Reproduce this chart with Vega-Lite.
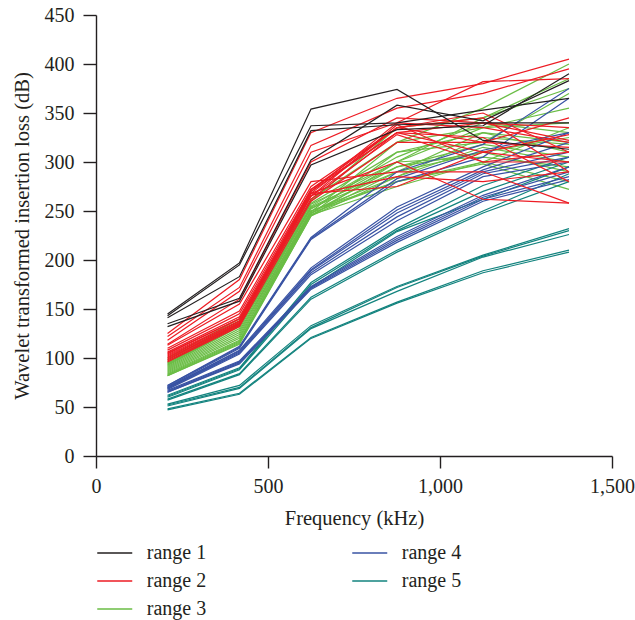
{
  "$schema": "https://vega.github.io/schema/vega-lite/v6.json",
  "width": 516,
  "height": 441,
  "autosize": {"type": "none"},
  "padding": {"left": 96, "top": 15, "right": 23, "bottom": 164},
  "background": "white",
  "config": {
    "view": {"stroke": null},
    "font": "Liberation Serif",
    "axis": {"labelFont": "Liberation Serif", "titleFont": "Liberation Serif", "labelFontSize": 20, "titleFontSize": 20.5, "titleFontWeight": "normal", "labelColor": "#231f20", "titleColor": "#231f20", "domainColor": "#231f20", "tickColor": "#231f20", "domainWidth": 1.4, "tickWidth": 1.4, "grid": false},
    "legend": {"labelFont": "Liberation Serif", "labelFontSize": 20, "labelColor": "#231f20"}
  },
  "data": {"values": [
    {"id":"G1","g":"range 3","f":208,"v":100},{"id":"G1","g":"range 3","f":417,"v":140},{"id":"G1","g":"range 3","f":625,"v":262},{"id":"G1","g":"range 3","f":875,"v":320},{"id":"G1","g":"range 3","f":1125,"v":355},{"id":"G1","g":"range 3","f":1375,"v":400},
    {"id":"G2","g":"range 3","f":208,"v":98},{"id":"G2","g":"range 3","f":417,"v":138},{"id":"G2","g":"range 3","f":625,"v":260},{"id":"G2","g":"range 3","f":875,"v":335},{"id":"G2","g":"range 3","f":1125,"v":345},{"id":"G2","g":"range 3","f":1375,"v":385},
    {"id":"G3","g":"range 3","f":208,"v":96},{"id":"G3","g":"range 3","f":417,"v":136},{"id":"G3","g":"range 3","f":625,"v":258},{"id":"G3","g":"range 3","f":875,"v":310},{"id":"G3","g":"range 3","f":1125,"v":320},{"id":"G3","g":"range 3","f":1375,"v":370},
    {"id":"G4","g":"range 3","f":208,"v":95},{"id":"G4","g":"range 3","f":417,"v":135},{"id":"G4","g":"range 3","f":625,"v":257},{"id":"G4","g":"range 3","f":875,"v":300},{"id":"G4","g":"range 3","f":1125,"v":335},{"id":"G4","g":"range 3","f":1375,"v":340},
    {"id":"G5","g":"range 3","f":208,"v":94},{"id":"G5","g":"range 3","f":417,"v":134},{"id":"G5","g":"range 3","f":625,"v":255},{"id":"G5","g":"range 3","f":875,"v":305},{"id":"G5","g":"range 3","f":1125,"v":340},{"id":"G5","g":"range 3","f":1375,"v":330},
    {"id":"G6","g":"range 3","f":208,"v":93},{"id":"G6","g":"range 3","f":417,"v":133},{"id":"G6","g":"range 3","f":625,"v":254},{"id":"G6","g":"range 3","f":875,"v":295},{"id":"G6","g":"range 3","f":1125,"v":310},{"id":"G6","g":"range 3","f":1375,"v":325},
    {"id":"G7","g":"range 3","f":208,"v":92},{"id":"G7","g":"range 3","f":417,"v":132},{"id":"G7","g":"range 3","f":625,"v":253},{"id":"G7","g":"range 3","f":875,"v":290},{"id":"G7","g":"range 3","f":1125,"v":330},{"id":"G7","g":"range 3","f":1375,"v":310},
    {"id":"G8","g":"range 3","f":208,"v":91},{"id":"G8","g":"range 3","f":417,"v":130},{"id":"G8","g":"range 3","f":625,"v":252},{"id":"G8","g":"range 3","f":875,"v":300},{"id":"G8","g":"range 3","f":1125,"v":305},{"id":"G8","g":"range 3","f":1375,"v":295},
    {"id":"G9","g":"range 3","f":208,"v":90},{"id":"G9","g":"range 3","f":417,"v":128},{"id":"G9","g":"range 3","f":625,"v":250},{"id":"G9","g":"range 3","f":875,"v":285},{"id":"G9","g":"range 3","f":1125,"v":325},{"id":"G9","g":"range 3","f":1375,"v":318},
    {"id":"G10","g":"range 3","f":208,"v":89},{"id":"G10","g":"range 3","f":417,"v":126},{"id":"G10","g":"range 3","f":625,"v":250},{"id":"G10","g":"range 3","f":875,"v":280},{"id":"G10","g":"range 3","f":1125,"v":300},{"id":"G10","g":"range 3","f":1375,"v":280},
    {"id":"G11","g":"range 3","f":208,"v":88},{"id":"G11","g":"range 3","f":417,"v":124},{"id":"G11","g":"range 3","f":625,"v":249},{"id":"G11","g":"range 3","f":875,"v":320},{"id":"G11","g":"range 3","f":1125,"v":335},{"id":"G11","g":"range 3","f":1375,"v":355},
    {"id":"G12","g":"range 3","f":208,"v":87},{"id":"G12","g":"range 3","f":417,"v":122},{"id":"G12","g":"range 3","f":625,"v":248},{"id":"G12","g":"range 3","f":875,"v":295},{"id":"G12","g":"range 3","f":1125,"v":318},{"id":"G12","g":"range 3","f":1375,"v":305},
    {"id":"G13","g":"range 3","f":208,"v":86},{"id":"G13","g":"range 3","f":417,"v":120},{"id":"G13","g":"range 3","f":625,"v":248},{"id":"G13","g":"range 3","f":875,"v":280},{"id":"G13","g":"range 3","f":1125,"v":298},{"id":"G13","g":"range 3","f":1375,"v":272},
    {"id":"G14","g":"range 3","f":208,"v":85},{"id":"G14","g":"range 3","f":417,"v":118},{"id":"G14","g":"range 3","f":625,"v":247},{"id":"G14","g":"range 3","f":875,"v":310},{"id":"G14","g":"range 3","f":1125,"v":330},{"id":"G14","g":"range 3","f":1375,"v":320},
    {"id":"G15","g":"range 3","f":208,"v":84},{"id":"G15","g":"range 3","f":417,"v":117},{"id":"G15","g":"range 3","f":625,"v":246},{"id":"G15","g":"range 3","f":875,"v":290},{"id":"G15","g":"range 3","f":1125,"v":310},{"id":"G15","g":"range 3","f":1375,"v":290},
    {"id":"G16","g":"range 3","f":208,"v":83},{"id":"G16","g":"range 3","f":417,"v":116},{"id":"G16","g":"range 3","f":625,"v":246},{"id":"G16","g":"range 3","f":875,"v":275},{"id":"G16","g":"range 3","f":1125,"v":300},{"id":"G16","g":"range 3","f":1375,"v":335},
    {"id":"G17","g":"range 3","f":208,"v":82},{"id":"G17","g":"range 3","f":417,"v":115},{"id":"G17","g":"range 3","f":625,"v":245},{"id":"G17","g":"range 3","f":875,"v":300},{"id":"G17","g":"range 3","f":1125,"v":345},{"id":"G17","g":"range 3","f":1375,"v":375},
    {"id":"G18","g":"range 3","f":208,"v":82},{"id":"G18","g":"range 3","f":417,"v":114},{"id":"G18","g":"range 3","f":625,"v":245},{"id":"G18","g":"range 3","f":875,"v":285},{"id":"G18","g":"range 3","f":1125,"v":315},{"id":"G18","g":"range 3","f":1375,"v":300},
    {"id":"T1","g":"range 5","f":208,"v":62},{"id":"T1","g":"range 5","f":417,"v":90},{"id":"T1","g":"range 5","f":625,"v":177},{"id":"T1","g":"range 5","f":875,"v":232},{"id":"T1","g":"range 5","f":1125,"v":276},{"id":"T1","g":"range 5","f":1375,"v":305},
    {"id":"T2","g":"range 5","f":208,"v":61},{"id":"T2","g":"range 5","f":417,"v":89},{"id":"T2","g":"range 5","f":625,"v":175},{"id":"T2","g":"range 5","f":875,"v":230},{"id":"T2","g":"range 5","f":1125,"v":270},{"id":"T2","g":"range 5","f":1375,"v":300},
    {"id":"T3","g":"range 5","f":208,"v":60},{"id":"T3","g":"range 5","f":417,"v":88},{"id":"T3","g":"range 5","f":625,"v":172},{"id":"T3","g":"range 5","f":875,"v":229},{"id":"T3","g":"range 5","f":1125,"v":262},{"id":"T3","g":"range 5","f":1375,"v":295},
    {"id":"T4","g":"range 5","f":208,"v":58},{"id":"T4","g":"range 5","f":417,"v":84},{"id":"T4","g":"range 5","f":625,"v":162},{"id":"T4","g":"range 5","f":875,"v":210},{"id":"T4","g":"range 5","f":1125,"v":250},{"id":"T4","g":"range 5","f":1375,"v":288},
    {"id":"T5","g":"range 5","f":208,"v":57},{"id":"T5","g":"range 5","f":417,"v":83},{"id":"T5","g":"range 5","f":625,"v":160},{"id":"T5","g":"range 5","f":875,"v":208},{"id":"T5","g":"range 5","f":1125,"v":248},{"id":"T5","g":"range 5","f":1375,"v":280},
    {"id":"T6","g":"range 5","f":208,"v":53},{"id":"T6","g":"range 5","f":417,"v":72},{"id":"T6","g":"range 5","f":625,"v":133},{"id":"T6","g":"range 5","f":875,"v":173},{"id":"T6","g":"range 5","f":1125,"v":205},{"id":"T6","g":"range 5","f":1375,"v":232},
    {"id":"T7","g":"range 5","f":208,"v":52},{"id":"T7","g":"range 5","f":417,"v":70},{"id":"T7","g":"range 5","f":625,"v":131},{"id":"T7","g":"range 5","f":875,"v":172},{"id":"T7","g":"range 5","f":1125,"v":204},{"id":"T7","g":"range 5","f":1375,"v":230},
    {"id":"T8","g":"range 5","f":208,"v":51},{"id":"T8","g":"range 5","f":417,"v":69},{"id":"T8","g":"range 5","f":625,"v":130},{"id":"T8","g":"range 5","f":875,"v":168},{"id":"T8","g":"range 5","f":1125,"v":203},{"id":"T8","g":"range 5","f":1375,"v":226},
    {"id":"T9","g":"range 5","f":208,"v":48},{"id":"T9","g":"range 5","f":417,"v":64},{"id":"T9","g":"range 5","f":625,"v":121},{"id":"T9","g":"range 5","f":875,"v":157},{"id":"T9","g":"range 5","f":1125,"v":189},{"id":"T9","g":"range 5","f":1375,"v":210},
    {"id":"T10","g":"range 5","f":208,"v":47},{"id":"T10","g":"range 5","f":417,"v":63},{"id":"T10","g":"range 5","f":625,"v":120},{"id":"T10","g":"range 5","f":875,"v":156},{"id":"T10","g":"range 5","f":1125,"v":187},{"id":"T10","g":"range 5","f":1375,"v":208},
    {"id":"U1","g":"range 4","f":208,"v":72},{"id":"U1","g":"range 4","f":417,"v":112},{"id":"U1","g":"range 4","f":625,"v":223},{"id":"U1","g":"range 4","f":875,"v":290},{"id":"U1","g":"range 4","f":1125,"v":318},{"id":"U1","g":"range 4","f":1375,"v":375},
    {"id":"U2","g":"range 4","f":208,"v":72},{"id":"U2","g":"range 4","f":417,"v":111},{"id":"U2","g":"range 4","f":625,"v":222},{"id":"U2","g":"range 4","f":875,"v":283},{"id":"U2","g":"range 4","f":1125,"v":312},{"id":"U2","g":"range 4","f":1375,"v":330},
    {"id":"U3","g":"range 4","f":208,"v":71},{"id":"U3","g":"range 4","f":417,"v":110},{"id":"U3","g":"range 4","f":625,"v":221},{"id":"U3","g":"range 4","f":875,"v":280},{"id":"U3","g":"range 4","f":1125,"v":305},{"id":"U3","g":"range 4","f":1375,"v":365},
    {"id":"M1","g":"range 4","f":208,"v":70},{"id":"M1","g":"range 4","f":417,"v":108},{"id":"M1","g":"range 4","f":625,"v":192},{"id":"M1","g":"range 4","f":875,"v":254},{"id":"M1","g":"range 4","f":1125,"v":295},{"id":"M1","g":"range 4","f":1375,"v":330},
    {"id":"M2","g":"range 4","f":208,"v":70},{"id":"M2","g":"range 4","f":417,"v":107},{"id":"M2","g":"range 4","f":625,"v":190},{"id":"M2","g":"range 4","f":875,"v":251},{"id":"M2","g":"range 4","f":1125,"v":292},{"id":"M2","g":"range 4","f":1375,"v":320},
    {"id":"M3","g":"range 4","f":208,"v":69},{"id":"M3","g":"range 4","f":417,"v":106},{"id":"M3","g":"range 4","f":625,"v":189},{"id":"M3","g":"range 4","f":875,"v":248},{"id":"M3","g":"range 4","f":1125,"v":290},{"id":"M3","g":"range 4","f":1375,"v":310},
    {"id":"M4","g":"range 4","f":208,"v":69},{"id":"M4","g":"range 4","f":417,"v":105},{"id":"M4","g":"range 4","f":625,"v":187},{"id":"M4","g":"range 4","f":875,"v":244},{"id":"M4","g":"range 4","f":1125,"v":288},{"id":"M4","g":"range 4","f":1375,"v":305},
    {"id":"M5","g":"range 4","f":208,"v":68},{"id":"M5","g":"range 4","f":417,"v":104},{"id":"M5","g":"range 4","f":625,"v":185},{"id":"M5","g":"range 4","f":875,"v":240},{"id":"M5","g":"range 4","f":1125,"v":285},{"id":"M5","g":"range 4","f":1375,"v":300},
    {"id":"L1","g":"range 4","f":208,"v":67},{"id":"L1","g":"range 4","f":417,"v":97},{"id":"L1","g":"range 4","f":625,"v":173},{"id":"L1","g":"range 4","f":875,"v":224},{"id":"L1","g":"range 4","f":1125,"v":266},{"id":"L1","g":"range 4","f":1375,"v":295},
    {"id":"L2","g":"range 4","f":208,"v":66},{"id":"L2","g":"range 4","f":417,"v":96},{"id":"L2","g":"range 4","f":625,"v":172},{"id":"L2","g":"range 4","f":875,"v":222},{"id":"L2","g":"range 4","f":1125,"v":264},{"id":"L2","g":"range 4","f":1375,"v":290},
    {"id":"L3","g":"range 4","f":208,"v":65},{"id":"L3","g":"range 4","f":417,"v":95},{"id":"L3","g":"range 4","f":625,"v":171},{"id":"L3","g":"range 4","f":875,"v":220},{"id":"L3","g":"range 4","f":1125,"v":262},{"id":"L3","g":"range 4","f":1375,"v":285},
    {"id":"L4","g":"range 4","f":208,"v":65},{"id":"L4","g":"range 4","f":417,"v":94},{"id":"L4","g":"range 4","f":625,"v":170},{"id":"L4","g":"range 4","f":875,"v":218},{"id":"L4","g":"range 4","f":1125,"v":260},{"id":"L4","g":"range 4","f":1375,"v":282},
    {"id":"R1","g":"range 2","f":208,"v":125},{"id":"R1","g":"range 2","f":417,"v":180},{"id":"R1","g":"range 2","f":625,"v":330},{"id":"R1","g":"range 2","f":875,"v":365},{"id":"R1","g":"range 2","f":1125,"v":380},{"id":"R1","g":"range 2","f":1375,"v":405},
    {"id":"R2","g":"range 2","f":208,"v":122},{"id":"R2","g":"range 2","f":417,"v":172},{"id":"R2","g":"range 2","f":625,"v":317},{"id":"R2","g":"range 2","f":875,"v":355},{"id":"R2","g":"range 2","f":1125,"v":370},{"id":"R2","g":"range 2","f":1375,"v":395},
    {"id":"R3","g":"range 2","f":208,"v":118},{"id":"R3","g":"range 2","f":417,"v":168},{"id":"R3","g":"range 2","f":625,"v":310},{"id":"R3","g":"range 2","f":875,"v":340},{"id":"R3","g":"range 2","f":1125,"v":382},{"id":"R3","g":"range 2","f":1375,"v":385},
    {"id":"R4","g":"range 2","f":208,"v":114},{"id":"R4","g":"range 2","f":417,"v":160},{"id":"R4","g":"range 2","f":625,"v":300},{"id":"R4","g":"range 2","f":875,"v":345},{"id":"R4","g":"range 2","f":1125,"v":340},{"id":"R4","g":"range 2","f":1375,"v":322},
    {"id":"R5","g":"range 2","f":208,"v":113},{"id":"R5","g":"range 2","f":417,"v":155},{"id":"R5","g":"range 2","f":625,"v":280},{"id":"R5","g":"range 2","f":875,"v":290},{"id":"R5","g":"range 2","f":1125,"v":290},{"id":"R5","g":"range 2","f":1375,"v":258},
    {"id":"R6","g":"range 2","f":208,"v":110},{"id":"R6","g":"range 2","f":417,"v":148},{"id":"R6","g":"range 2","f":625,"v":275},{"id":"R6","g":"range 2","f":875,"v":335},{"id":"R6","g":"range 2","f":1125,"v":350},{"id":"R6","g":"range 2","f":1375,"v":310},
    {"id":"R7","g":"range 2","f":208,"v":108},{"id":"R7","g":"range 2","f":417,"v":145},{"id":"R7","g":"range 2","f":625,"v":272},{"id":"R7","g":"range 2","f":875,"v":330},{"id":"R7","g":"range 2","f":1125,"v":325},{"id":"R7","g":"range 2","f":1375,"v":280},
    {"id":"R8","g":"range 2","f":208,"v":106},{"id":"R8","g":"range 2","f":417,"v":142},{"id":"R8","g":"range 2","f":625,"v":270},{"id":"R8","g":"range 2","f":875,"v":330},{"id":"R8","g":"range 2","f":1125,"v":340},{"id":"R8","g":"range 2","f":1375,"v":335},
    {"id":"R9","g":"range 2","f":208,"v":105},{"id":"R9","g":"range 2","f":417,"v":140},{"id":"R9","g":"range 2","f":625,"v":268},{"id":"R9","g":"range 2","f":875,"v":275},{"id":"R9","g":"range 2","f":1125,"v":310},{"id":"R9","g":"range 2","f":1375,"v":300},
    {"id":"R10","g":"range 2","f":208,"v":104},{"id":"R10","g":"range 2","f":417,"v":140},{"id":"R10","g":"range 2","f":625,"v":265},{"id":"R10","g":"range 2","f":875,"v":338},{"id":"R10","g":"range 2","f":1125,"v":300},{"id":"R10","g":"range 2","f":1375,"v":310},
    {"id":"R11","g":"range 2","f":208,"v":103},{"id":"R11","g":"range 2","f":417,"v":138},{"id":"R11","g":"range 2","f":625,"v":272},{"id":"R11","g":"range 2","f":875,"v":335},{"id":"R11","g":"range 2","f":1125,"v":320},{"id":"R11","g":"range 2","f":1375,"v":345},
    {"id":"R12","g":"range 2","f":208,"v":102},{"id":"R12","g":"range 2","f":417,"v":137},{"id":"R12","g":"range 2","f":625,"v":268},{"id":"R12","g":"range 2","f":875,"v":300},{"id":"R12","g":"range 2","f":1125,"v":262},{"id":"R12","g":"range 2","f":1375,"v":258},
    {"id":"R13","g":"range 2","f":208,"v":101},{"id":"R13","g":"range 2","f":417,"v":136},{"id":"R13","g":"range 2","f":625,"v":266},{"id":"R13","g":"range 2","f":875,"v":285},{"id":"R13","g":"range 2","f":1125,"v":280},{"id":"R13","g":"range 2","f":1375,"v":290},
    {"id":"R14","g":"range 2","f":208,"v":100},{"id":"R14","g":"range 2","f":417,"v":135},{"id":"R14","g":"range 2","f":625,"v":270},{"id":"R14","g":"range 2","f":875,"v":340},{"id":"R14","g":"range 2","f":1125,"v":335},{"id":"R14","g":"range 2","f":1375,"v":320},
    {"id":"R15","g":"range 2","f":208,"v":99},{"id":"R15","g":"range 2","f":417,"v":135},{"id":"R15","g":"range 2","f":625,"v":262},{"id":"R15","g":"range 2","f":875,"v":330},{"id":"R15","g":"range 2","f":1125,"v":310},{"id":"R15","g":"range 2","f":1375,"v":328},
    {"id":"R16","g":"range 2","f":208,"v":98},{"id":"R16","g":"range 2","f":417,"v":134},{"id":"R16","g":"range 2","f":625,"v":265},{"id":"R16","g":"range 2","f":875,"v":328},{"id":"R16","g":"range 2","f":1125,"v":300},{"id":"R16","g":"range 2","f":1375,"v":300},
    {"id":"R17","g":"range 2","f":208,"v":97},{"id":"R17","g":"range 2","f":417,"v":133},{"id":"R17","g":"range 2","f":625,"v":268},{"id":"R17","g":"range 2","f":875,"v":335},{"id":"R17","g":"range 2","f":1125,"v":345},{"id":"R17","g":"range 2","f":1375,"v":290},
    {"id":"R18","g":"range 2","f":208,"v":96},{"id":"R18","g":"range 2","f":417,"v":132},{"id":"R18","g":"range 2","f":625,"v":260},{"id":"R18","g":"range 2","f":875,"v":320},{"id":"R18","g":"range 2","f":1125,"v":320},{"id":"R18","g":"range 2","f":1375,"v":315},
    {"id":"B1","g":"range 1","f":208,"v":145},{"id":"B1","g":"range 1","f":417,"v":197},{"id":"B1","g":"range 1","f":625,"v":354},{"id":"B1","g":"range 1","f":875,"v":374},{"id":"B1","g":"range 1","f":1125,"v":322},{"id":"B1","g":"range 1","f":1375,"v":313},
    {"id":"B2","g":"range 1","f":208,"v":143},{"id":"B2","g":"range 1","f":417,"v":195},{"id":"B2","g":"range 1","f":625,"v":337},{"id":"B2","g":"range 1","f":875,"v":340},{"id":"B2","g":"range 1","f":1125,"v":353},{"id":"B2","g":"range 1","f":1375,"v":365},
    {"id":"B3","g":"range 1","f":208,"v":141},{"id":"B3","g":"range 1","f":417,"v":183},{"id":"B3","g":"range 1","f":625,"v":332},{"id":"B3","g":"range 1","f":875,"v":338},{"id":"B3","g":"range 1","f":1125,"v":340},{"id":"B3","g":"range 1","f":1375,"v":340},
    {"id":"B4","g":"range 1","f":208,"v":135},{"id":"B4","g":"range 1","f":417,"v":161},{"id":"B4","g":"range 1","f":625,"v":302},{"id":"B4","g":"range 1","f":875,"v":358},{"id":"B4","g":"range 1","f":1125,"v":342},{"id":"B4","g":"range 1","f":1375,"v":383},
    {"id":"B5","g":"range 1","f":208,"v":132},{"id":"B5","g":"range 1","f":417,"v":158},{"id":"B5","g":"range 1","f":625,"v":297},{"id":"B5","g":"range 1","f":875,"v":333},{"id":"B5","g":"range 1","f":1125,"v":337},{"id":"B5","g":"range 1","f":1375,"v":390}
  ]},
  "mark": {"type": "line", "strokeWidth": 1.2},
  "encoding": {
    "x": {"field": "f", "type": "quantitative", "title": "Frequency (kHz)",
      "scale": {"domain": [0, 1500], "nice": false},
      "axis": {"values": [0, 500, 1000, 1500], "format": ",d", "tickSize": 12, "labelPadding": 8, "titlePadding": 12, "labelFlush": false}},
    "y": {"field": "v", "type": "quantitative", "title": "Wavelet transformed insertion loss (dB)",
      "scale": {"domain": [0, 450], "nice": false},
      "axis": {"values": [0, 50, 100, 150, 200, 250, 300, 350, 400, 450], "format": "d", "tickSize": 13, "labelPadding": 9, "titlePadding": 12}},
    "detail": {"field": "id"},
    "color": {"field": "g", "type": "nominal",
      "scale": {"domain": ["range 1", "range 2", "range 3", "range 4", "range 5"], "range": ["#231f20", "#ed1c24", "#6abd45", "#3953a4", "#12837e"]},
      "legend": {"title": null, "orient": "none", "legendX": 8.75, "legendY": 528, "columns": 2, "columnPadding": 141, "rowPadding": 8, "padding": 0,
        "symbolType": "M-2,0L2,0", "symbolSize": 306, "symbolStrokeWidth": 2, "symbolOpacity": 0.75, "labelOffset": 22}}
  }
}
